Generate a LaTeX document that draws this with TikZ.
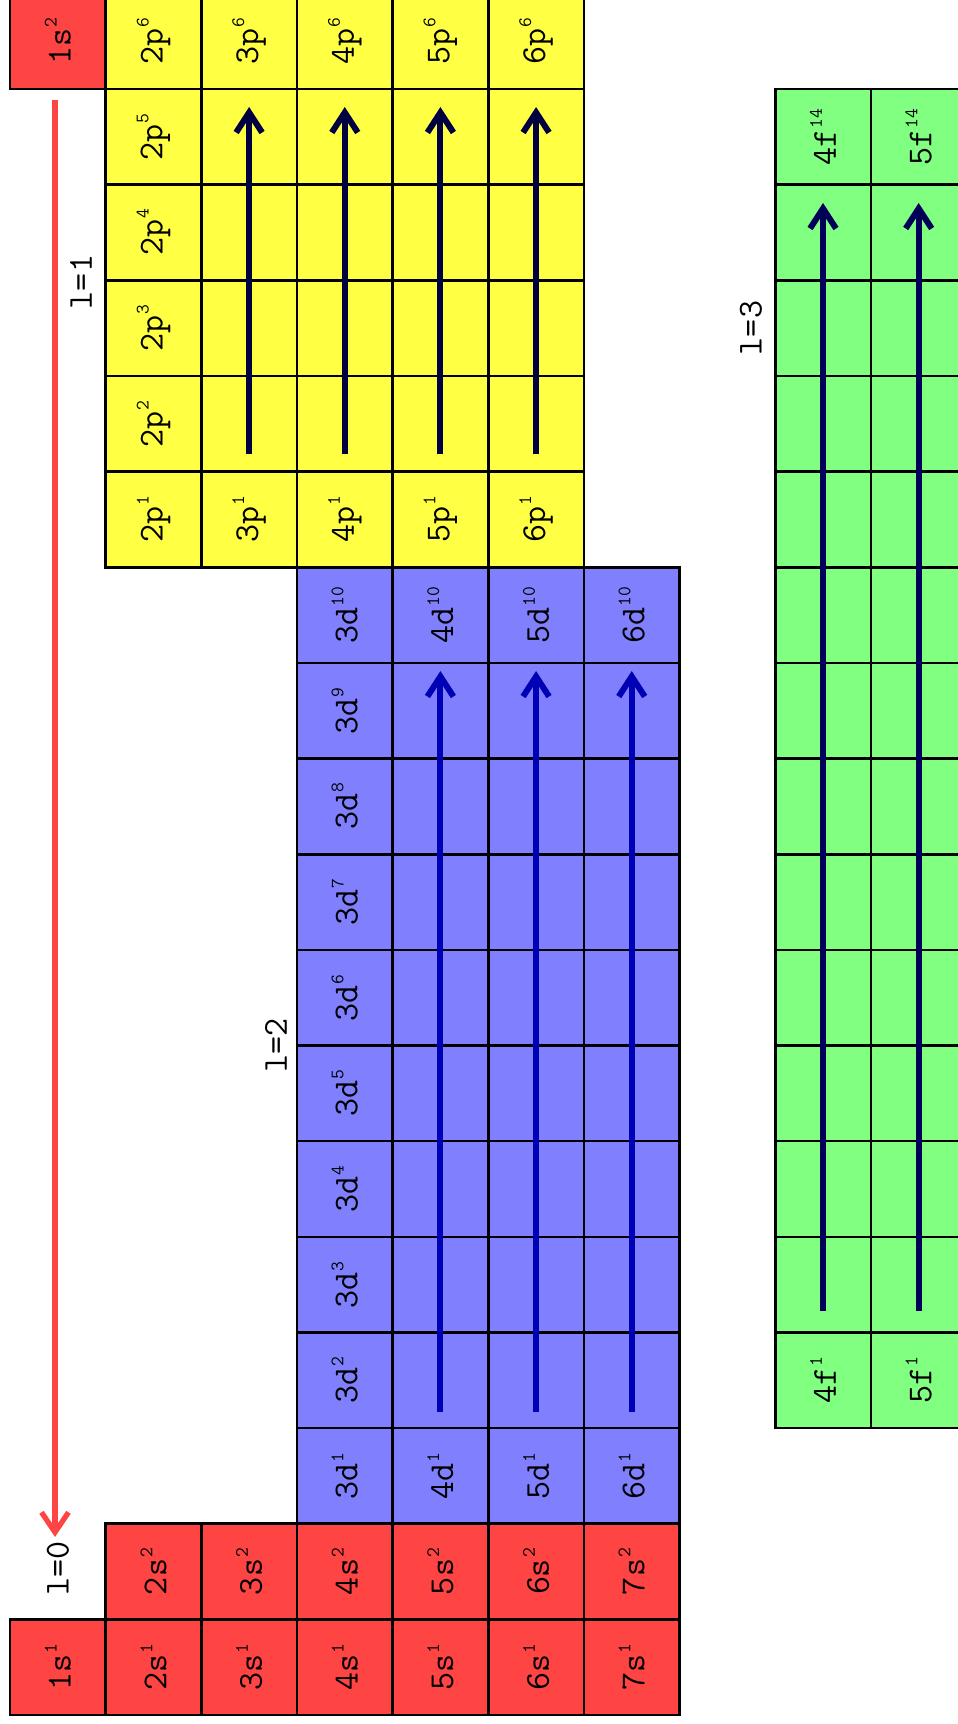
\documentclass[tikz,border=0pt]{standalone}
\usetikzlibrary{arrows.meta}
\definecolor{sred}{HTML}{FF4444}
\definecolor{pyel}{HTML}{FFFF44}
\definecolor{dblue}{HTML}{8080FF}
\definecolor{fgreen}{HTML}{80FF80}
\definecolor{parr}{HTML}{000040}
\definecolor{darr}{HTML}{0000B4}
\definecolor{farr}{HTML}{000058}
\definecolor{rarr}{HTML}{FF4444}
\newcommand{\cxx}[1]{10+95.65*(#1+0.5)}
\newcommand{\cyy}[1]{-6.65+95.65*(#1+0.5)}
\newcommand{\spp}[1]{\kern1pt\raisebox{14pt}{\fontsize{19}{19}\selectfont #1}}
\begin{document}
\begin{tikzpicture}[x=1pt,y=-1pt,
  cell/.style={draw=black,line width=2.6pt,minimum size=95.65pt,inner sep=0pt,rotate=90,
    font=\ttfamily\fontsize{35}{40}\selectfont},
  lab/.style={inner sep=0pt,rotate=90,font=\ttfamily\fontsize{35}{40}\selectfont},
  barrow/.style={line width=6pt,-{Straight Barb[length=20pt,width=26pt]}}
]
\useasboundingbox (0,0) rectangle (958,1724);
\clip (0,0) rectangle (958,1724);
% s block
\node[cell,fill=sred] (s1a) at ({\cxx{0}},{\cyy{0}}) {1s\spp{2}};
\node[cell,fill=sred] (s1b) at ({\cxx{0}},{\cyy{17}}) {1s\spp{1}};
\foreach \k in {1,...,6}{
  \pgfmathtruncatemacro\nn{\k+1}
  \node[cell,fill=sred] (s\nn a) at ({\cxx{\k}},{\cyy{16}}) {\nn s\spp{2}};
  \node[cell,fill=sred] (s\nn b) at ({\cxx{\k}},{\cyy{17}}) {\nn s\spp{1}};
}
% p block
\foreach \r in {0,...,5}{
  \pgfmathtruncatemacro\ee{6-\r}
  \node[cell,fill=pyel] (p2-\r) at ({\cxx{1}},{\cyy{\r}}) {2p\spp{\ee}};
}
\foreach \k in {2,...,5}{
  \pgfmathtruncatemacro\nn{\k+1}
  \foreach \r in {0,...,5}{
    \node[cell,fill=pyel] (p\nn-\r) at ({\cxx{\k}},{\cyy{\r}})
      {\ifnum\r=0 \nn p\spp{6}\else\ifnum\r=5 \nn p\spp{1}\fi\fi};
  }
}
% d block
\foreach \r in {6,...,15}{
  \pgfmathtruncatemacro\ee{16-\r}
  \node[cell,fill=dblue] (d3-\r) at ({\cxx{3}},{\cyy{\r}}) {3d\spp{\ee}};
}
\foreach \k in {4,...,6}{
  \foreach \r in {6,...,15}{
    \node[cell,fill=dblue] (d\k-\r) at ({\cxx{\k}},{\cyy{\r}})
      {\ifnum\r=6 \k d\spp{10}\else\ifnum\r=15 \k d\spp{1}\fi\fi};
  }
}
% f block
\foreach \k in {8,9}{
  \pgfmathtruncatemacro\nn{\k-4}
  \foreach \r in {1,...,14}{
    \node[cell,fill=fgreen] (f\nn-\r) at ({\cxx{\k}},{\cyy{\r}})
      {\ifnum\r=1 \nn f\spp{14}\else\ifnum\r=14 \nn f\spp{1}\fi\fi};
  }
}
% labels
\node[lab] (l0) at (58,1568) {l=0};
\node[lab] (l1) at (81,282) {l=1};
\node[lab] (l2) at (276,1045) {l=2};
\node[lab] (l3) at (751,328) {l=3};
% arrows
\coordinate (r0s) at (55,100);
\coordinate (r0e) at (55,1537);
\draw[line width=5.3pt,rarr,-{Straight Barb[length=20pt,width=27pt]}] (r0s) -- (r0e);
\foreach \k in {2,...,5}{
  \coordinate (pas\k) at ({\cxx{\k}},454);
  \coordinate (pae\k) at ({\cxx{\k}},107);
  \draw[barrow,parr] (pas\k) -- (pae\k);
}
\foreach \k in {4,...,6}{
  \coordinate (das\k) at ({\cxx{\k}},1412);
  \coordinate (dae\k) at ({\cxx{\k}},671);
  \draw[barrow,darr] (das\k) -- (dae\k);
}
\foreach \k in {8,9}{
  \coordinate (fas\k) at ({\cxx{\k}},1311);
  \coordinate (fae\k) at ({\cxx{\k}},203);
  \draw[barrow,farr] (fas\k) -- (fae\k);
}
\end{tikzpicture}
\end{document}
